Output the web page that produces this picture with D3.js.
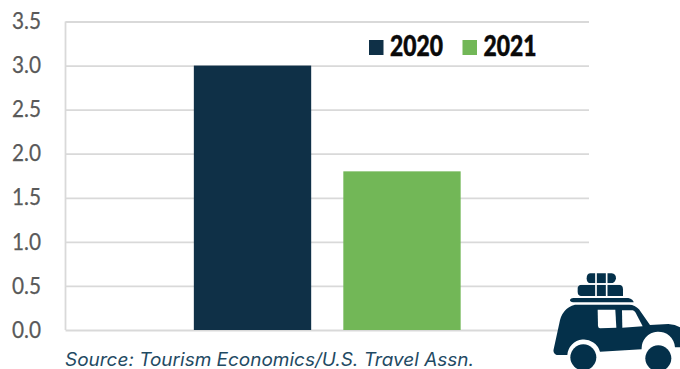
<!DOCTYPE html>
<html>
<head>
<meta charset="utf-8">
<script src="https://cdn.jsdelivr.net/npm/d3@7"></script>
<style>
html,body{margin:0;padding:0;background:#fff;}
svg{display:block;}
</style>
</head>
<body>
<svg id="chart" width="680" height="369"></svg>
<script>
// Chart values
const groups = ["Travel"];
const seriesNames = ["2020", "2021"];
const seriesValues = [3.0, 1.8];
const seriesColors = ["#0f3047", "#72b757"];
const tickValues = [0, 0.5, 1, 1.5, 2, 2.5, 3, 3.5];
const sourceNote = "Source: Tourism Economics/U.S. Travel Assn.";

const svg = d3.select("#chart");
const plotLeft = 65.5, plotRight = 589, plotTop = 21.5, plotBottom = 330;

const y = d3.scaleLinear().domain([0, 3.5]).range([plotBottom, plotTop]);
const x0 = d3.scaleBand().domain(groups).range([plotLeft, plotRight]).paddingOuter(0.481);
const x1 = d3.scaleBand().domain(seriesNames)
  .range([x0(groups[0]), x0(groups[0]) + x0.bandwidth()]).paddingInner(0.215);

// Horizontal gridlines and the value axis
const axis = svg.append("g").attr("transform", `translate(${plotLeft},0)`)
  .call(d3.axisLeft(y).tickValues(tickValues).tickFormat(d3.format(".1f"))
    .tickSize(-(plotRight - plotLeft)).tickPadding(24));
axis.select(".domain").attr("stroke", "#d9d9d9").attr("stroke-width", 1.8).attr("d", `M0,${plotTop}V${plotBottom}`);
axis.selectAll(".tick line").attr("stroke", "#d9d9d9").attr("stroke-width", 1.8);
axis.selectAll(".tick text")
  .attr("font-family", "Lato, sans-serif").attr("font-size", 24).attr("fill", "#595959")
  .attr("stroke", "#595959").attr("stroke-width", 0.25)
  .attr("text-anchor", "start").attr("x", -53.5).attr("dy", "0.3em")
  .attr("textLength", 29).attr("lengthAdjust", "spacingAndGlyphs");

// Bars
svg.append("g").selectAll("rect").data(seriesNames).join("rect")
  .attr("x", d => x1(d)).attr("width", x1.bandwidth())
  .attr("y", (d, i) => y(seriesValues[i]))
  .attr("height", (d, i) => y(0) - y(seriesValues[i]))
  .attr("fill", (d, i) => seriesColors[i]);

// Legend
const legendX = [369, 462.5];
const legend = svg.append("g").selectAll("g").data(seriesNames).join("g")
  .attr("transform", (d, i) => `translate(${legendX[i]},40)`);
legend.append("rect").attr("width", 14.5).attr("height", 15)
  .attr("fill", (d, i) => seriesColors[i]);
legend.append("text").text(d => d)
  .attr("x", 21).attr("y", 16)
  .attr("font-family", "Lato, sans-serif")
  .attr("font-weight", 900).attr("font-size", 28).attr("fill", "#0a0a0a")
  .attr("stroke", "#0a0a0a").attr("stroke-width", 0.5)
  .attr("textLength", 53).attr("lengthAdjust", "spacingAndGlyphs");

// Source line
svg.append("text").text(sourceNote)
  .attr("x", 65).attr("y", 365.5)
  .attr("font-family", "Inter, sans-serif").attr("font-style", "italic")
  .attr("font-size", 18).attr("fill", "#1f4a63")
  .attr("textLength", 409).attr("lengthAdjust", "spacingAndGlyphs");

// Car pictogram with roof luggage
const navy = "#04304a";
const car = svg.append("g").attr("transform", "translate(540,260) scale(0.3333)");
car.append("path").attr("fill", navy).attr("d",
  "M150,40 H215 Q228,42 228,55 Q226,70 212,70 H150 Q140,68 140,55 Q140,42 150,40Z");
car.append("path").attr("fill", navy).attr("d",
  "M125,74 H238 Q249,75 249,88 V108 H122 Q113,106 113,95 V84 Q114,75 125,74Z");
car.append("path").attr("stroke", "#fff").attr("stroke-width", 5).attr("fill", "none")
  .attr("d", "M168,38 V110 M200,38 V110 M112,72 H250");
car.append("path").attr("fill", navy).attr("d",
  "M100,114 H265 Q280,118 281,127 H100 Q88,124 90,119 Q92,115 100,114Z");
car.append("path").attr("fill", navy).attr("d",
  "M105,134 H268 Q285,134 297,148 L330,195 L385,192 Q410,194 425,205 V262 L405,262 " +
  "A50,50 0 0 0 305,268 L180,275 A50,50 0 0 0 82,285 L50,285 Q38,280 41,268 " +
  "L58,190 Q65,145 105,134Z");
car.append("path").attr("fill", "#fff").attr("d", "M173,149 H226 L229,203 L180,205 Q175,205 174,198Z");
car.append("path").attr("fill", "#fff").attr("d", "M246,151 H278 Q283,152 287,158 L308,199 L247,203Z");
car.append("circle").attr("cx", 130).attr("cy", 292).attr("r", 39).attr("fill", navy);
car.append("circle").attr("cx", 355).attr("cy", 295).attr("r", 39).attr("fill", navy);
</script>
</body>
</html>
